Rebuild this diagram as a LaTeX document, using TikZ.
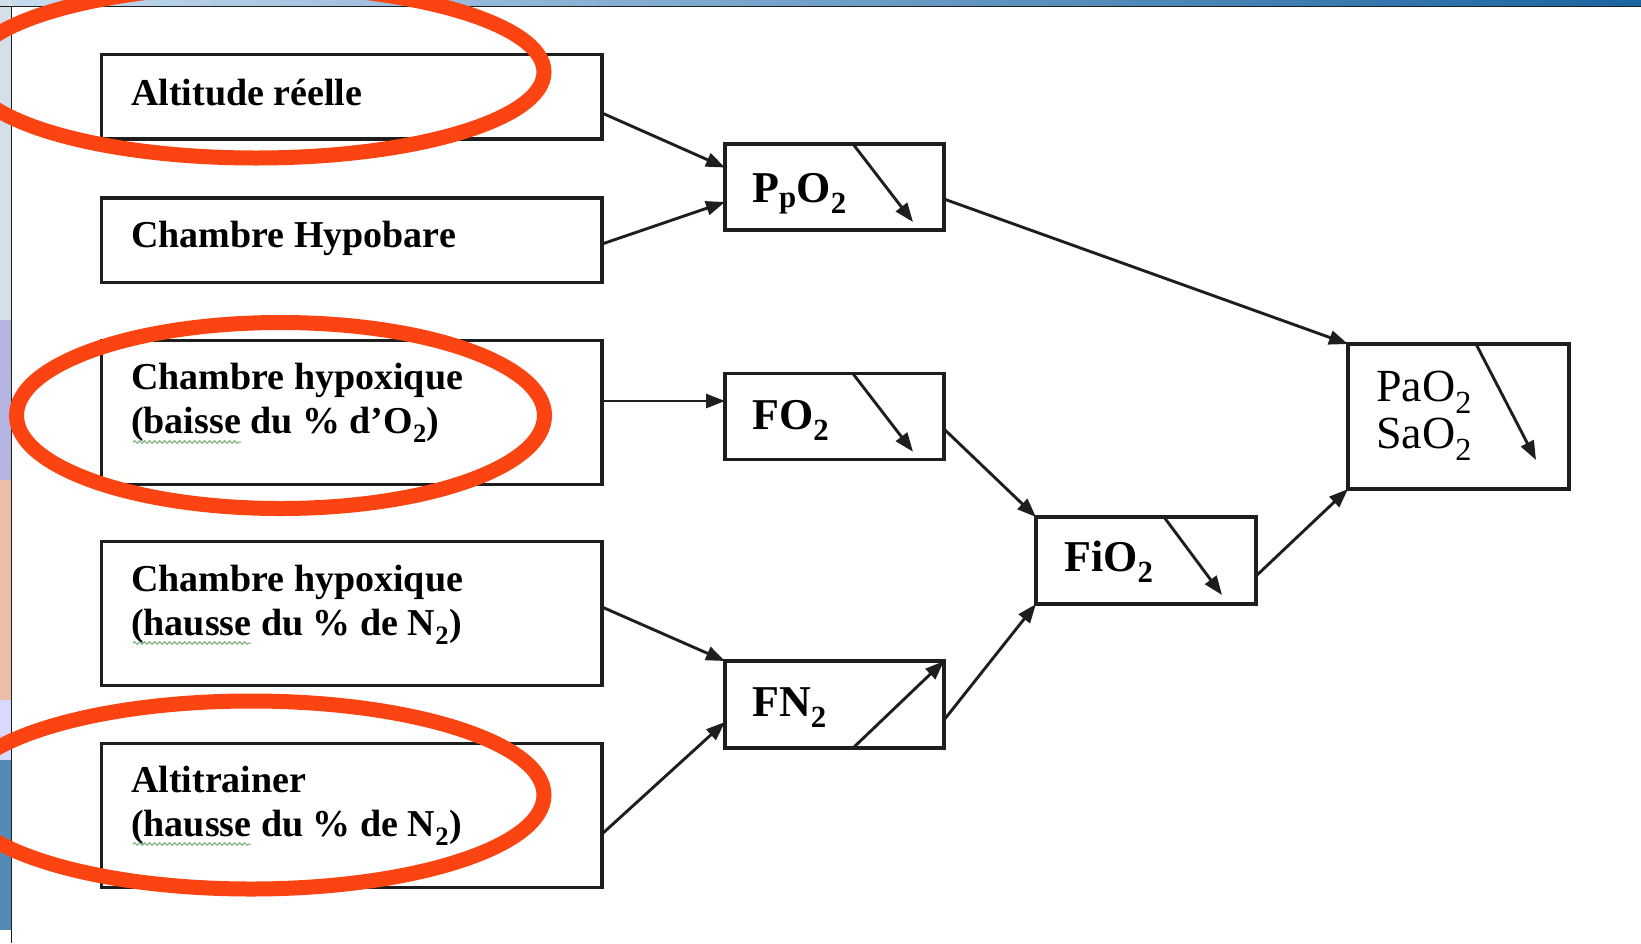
\documentclass[tikz,border=0pt]{standalone}
\usepackage{fontspec}
\setmainfont{Liberation Serif}
\usetikzlibrary{arrows.meta,calc,decorations.pathmorphing}
\definecolor{ink}{RGB}{30,30,30}
\definecolor{mark}{RGB}{252,68,18}
\definecolor{spell}{RGB}{120,175,120}
\definecolor{barL}{RGB}{200,220,240}
\definecolor{barM}{RGB}{110,160,212}
\definecolor{barR}{RGB}{26,100,160}
\begin{document}
\begin{tikzpicture}[x=1pt,y=-1pt,
  box/.style={draw=ink,line width=3.3pt,inner sep=0pt,outer sep=0pt},
  conn/.style={draw=ink,line width=2.9pt,-{Triangle[length=19pt,width=14pt]}},
  lbl/.style={anchor=base west,inner sep=0pt,font=\fontsize{38}{45}\selectfont\bfseries},
  sml/.style={anchor=base west,inner sep=0pt,font=\fontsize{44}{47}\selectfont\bfseries},
  big/.style={anchor=base west,inner sep=0pt,font=\fontsize{46}{48}\selectfont},
  ring/.style={draw=mark,line width=15pt},
  wavy/.style={draw=spell,line width=1pt,decorate,decoration={snake,amplitude=1.3pt,segment length=5pt}}
]
\useasboundingbox (0,0) rectangle (1641,943);
\fill[white] (0,0) rectangle (1641,943);
% screenshot surroundings
\shade[left color=barL,middle color=barM,right color=barR] (0,0) rectangle (1641,6.5);
\fill[barL!80!gray!60] (0,0) rectangle (11,320);
\fill[gray!55!blue!40] (0,320) rectangle (11,480);
\fill[brown!45!pink!70] (0,480) rectangle (11,700);
\fill[white!85!blue] (0,700) rectangle (11,760);
\fill[barR!75] (0,760) rectangle (11,930);
\draw[ink,line width=1.5pt] (0,6.5) -- (1641,6.5);
\draw[ink,line width=1.5pt] (11.5,6.5) -- (11.5,943);

% boxes
\node[box,minimum width=500.5pt,minimum height=84.5pt] (alt) at (351.75,96.75) {};
\node[box,minimum width=500.5pt,minimum height=84.5pt] (hyp) at (351.75,240.25) {};
\node[box,minimum width=500.5pt,minimum height=144pt] (hx1) at (351.75,412.25) {};
\node[box,minimum width=500.5pt,minimum height=144pt] (hx2) at (351.75,613.75) {};
\node[box,minimum width=500.5pt,minimum height=144pt] (alti) at (351.75,815.75) {};
\node[box,minimum width=219pt,minimum height=86pt] (ppo) at (834.5,187) {};
\node[box,minimum width=219pt,minimum height=86pt] (fo) at (834.5,416.75) {};
\node[box,minimum width=219pt,minimum height=87pt] (fn) at (834.5,704.5) {};
\node[box,minimum width=220pt,minimum height=87pt] (fio) at (1146,560.5) {};
\node[box,minimum width=221pt,minimum height=145pt] (pao) at (1458.5,416.5) {};

% labels
\node[lbl] (t1) at (131,105) {Altitude réelle};
\node[lbl] (t2) at (131,247) {Chambre Hypobare};
\node[lbl] (t3a) at (131,389) {Chambre hypoxique};
\node[lbl] (t3b) at (131,433) {(baisse du \% d’O\textsubscript{2})};
\node[lbl] (t4a) at (131,591) {Chambre hypoxique};
\node[lbl] (t4b) at (131,635) {(hausse du \% de N\textsubscript{2})};
\node[lbl] (t5a) at (131,792) {Altitrainer};
\node[lbl] (t5b) at (131,836) {(hausse du \% de N\textsubscript{2})};
\node[sml] (tp) at (752,202) {P\textsubscript{p}O\textsubscript{2}};
\node[sml] (tf) at (752,429) {FO\textsubscript{2}};
\node[sml] (tn) at (752,716) {FN\textsubscript{2}};
\node[sml] (ti) at (1064,571) {FiO\textsubscript{2}};
\node[big] (ta) at (1376,401) {PaO\textsubscript{2}};
\node[big] (ts) at (1376,448) {SaO\textsubscript{2}};

% spell-check underlines
\draw[wavy] (133,442) -- (241,442);
\draw[wavy] (133,643) -- (251,643);
\draw[wavy] (133,844) -- (251,844);

% connectors
\draw[conn] ([yshift=-16.25pt]alt.east) -- ([yshift=19.5pt]ppo.west);
\draw[conn] ([yshift=-3.75pt]hyp.east) -- ([yshift=-15pt]ppo.west);
\draw[conn] ([yshift=-12pt]ppo.east) -- (pao.north west);
\draw[conn] ([yshift=11.25pt]hx1.east) -- ([yshift=15.75pt]fo.west);
\draw[conn] ([yshift=-12.25pt]fo.east) -- (fio.north west);
\draw[conn] ([yshift=6.75pt]hx2.east) -- (fn.north west);
\draw[conn] ([yshift=-18.25pt]alti.east) -- ([yshift=-17.5pt]fn.west);
\draw[conn] ([yshift=-15.5pt]fn.east) -- (fio.south west);
\draw[conn] ([yshift=-15.5pt]fio.east) -- (pao.south west);

% trend arrows inside boxes
\draw[conn] ($(ppo.north west)+(128,0)$) -- ($(ppo.north west)+(188,78)$);
\draw[conn] ($(fo.north west)+(128,0)$) -- ($(fo.north west)+(188,78)$);
\draw[conn] ($(fio.north west)+(128,0)$) -- ($(fio.north west)+(186,78)$);
\draw[conn] ($(pao.north west)+(128,0)$) -- ($(pao.north west)+(188,116)$);
\draw[conn] ($(fn.south west)+(128,0)$) -- (fn.north east);

% red highlight rings
\draw[ring] (256,72) ellipse [x radius=288pt, y radius=86pt];
\draw[ring] (280.5,415.5) ellipse [x radius=264pt, y radius=93pt];
\draw[ring] (251,795) ellipse [x radius=293pt, y radius=94pt];
\end{tikzpicture}
\end{document}
